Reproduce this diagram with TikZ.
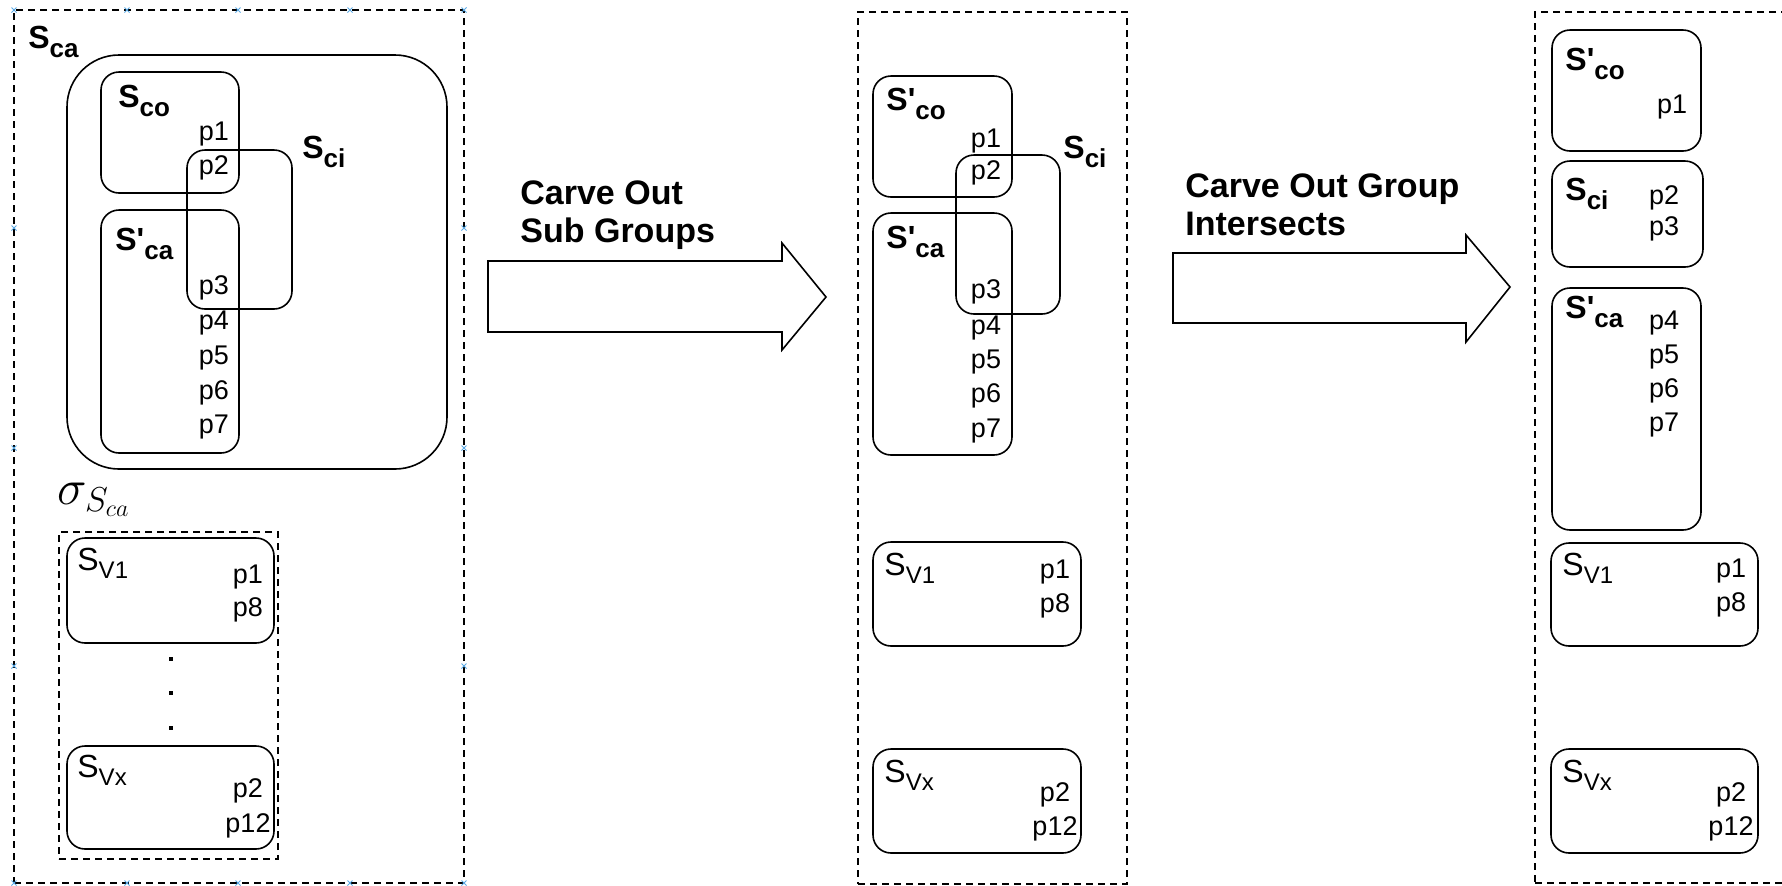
\documentclass[tikz,border=0pt]{standalone}
\usepackage{fontspec}
\setmainfont{Liberation Sans}
\usetikzlibrary{fit}
\newcommand{\SB}[2]{{\fontsize{16}{18}\selectfont\bfseries #1\raisebox{-4.5pt}{\fontsize{13}{15}\selectfont\bfseries #2}}}
\newcommand{\SV}[1]{{\fontsize{16}{18}\selectfont S\raisebox{-4pt}{\fontsize{12}{14}\selectfont #1}}}
\newcommand{\Sp}{S\textquotesingle}
\tikzset{
  grp/.style={draw, line width=0.8pt, rounded corners=9pt, inner sep=0pt, fit={#1}},
  dbox/.style={draw, line width=0.7pt, dash pattern=on 3.5pt off 2.5pt, inner sep=0pt, fit={#1}},
  lbl/.style={anchor=base west, inner sep=0pt},
  ptxt/.style={inner sep=0pt, font=\fontsize{13.5}{16}\selectfont},
  atxt/.style={anchor=west, inner sep=0pt, align=left, font=\fontsize{17}{19}\selectfont\bfseries},
  blockarrow/.style={draw, line width=0.8pt, line join=miter},
  hnd/.style={draw={rgb,255:red,90;green,170;blue,230}, line width=0.5pt},
  dotmark/.style={fill=black}
}
\begin{document}
\begin{tikzpicture}[x=0.5pt,y=-0.5pt]
\useasboundingbox (0,0) rectangle (1782,885);
\clip (0,0) rectangle (1782,885);

% ---------------- Panel 1 ----------------
\node[dbox={(14,10) (464,883)}] (pan1) {};
\foreach \hx/\hy in {14/10,127/10,238/10,350/10,464/10,14/228,464/228,14/448,464/448,14/666,464/666,14/883,127/883,238/883,350/883,464/883}
  \draw[hnd] (\hx-2.5,\hy-2.5) -- (\hx+2.5,\hy+2.5) (\hx-2.5,\hy+2.5) -- (\hx+2.5,\hy-2.5);
\node[lbl] (lca1) at (28,48) {\SB{S}{ca}};
\node[grp={(67,55) (447,469)}, rounded corners=26pt] (sca1) {};
\node[grp={(101,72) (239,193)}] (sco1) {};
\node[grp={(187,150) (292,309)}] (sci1) {};
\node[grp={(101,210) (239,453)}] (scap1) {};
\node[lbl] (lco1) at (118,107) {\SB{S}{co}};
\node[lbl] (lci1) at (302,158) {\SB{S}{ci}};
\node[lbl] (lcap1) at (115,250) {\SB{\Sp}{ca}};
\node[ptxt] (a1) at (214,134) {p1};
\node[ptxt] (a2) at (214,168) {p2};
\node[ptxt] (a3) at (214,288) {p3};
\node[ptxt] (a4) at (214,323) {p4};
\node[ptxt] (a5) at (214,358) {p5};
\node[ptxt] (a6) at (214,393) {p6};
\node[ptxt] (a7) at (214,427) {p7};

\node[lbl] (lsig) at (57,504) {\fontsize{23}{25}\selectfont$\sigma_{S_{ca}}$};
\node[dbox={(59,532) (278,859)}] (sig) {};
\node[grp={(67,538) (274,643)}] (v1a) {};
\node[lbl] (lv1a) at (77,570) {\SV{V1}};
\node[ptxt] (b1) at (248,577) {p1};
\node[ptxt] (b8) at (248,610) {p8};
\fill[dotmark] (169,657) rectangle (173,661);
\fill[dotmark] (169,691) rectangle (173,695);
\fill[dotmark] (169,726) rectangle (173,730);
\node[grp={(67,746) (274,849)}] (vxa) {};
\node[lbl] (lvxa) at (77,777) {\SV{Vx}};
\node[ptxt] (b2) at (248,791) {p2};
\node[ptxt] (b12) at (248,826) {p12};

% ---------------- Arrow 1 ----------------
\draw[blockarrow] (488,261) -- (782,261) -- (782,243) -- (826,297) -- (782,350) -- (782,332) -- (488,332) -- cycle;
\node[atxt] (t1) at (520,215) {Carve Out\\Sub Groups};

% ---------------- Panel 2 ----------------
\node[dbox={(858,12) (1127,884)}] (pan2) {};
\node[grp={(873,76) (1012,197)}] (sco2) {};
\node[grp={(956,155) (1060,314)}] (sci2) {};
\node[grp={(873,213) (1012,455)}] (scap2) {};
\node[lbl] (lco2) at (886,110) {\SB{\Sp}{co}};
\node[lbl] (lci2) at (1063,158) {\SB{S}{ci}};
\node[lbl] (lcap2) at (886,248) {\SB{\Sp}{ca}};
\node[ptxt] (c1) at (986,141) {p1};
\node[ptxt] (c2) at (986,173) {p2};
\node[ptxt] (c3) at (986,292) {p3};
\node[ptxt] (c4) at (986,328) {p4};
\node[ptxt] (c5) at (986,362) {p5};
\node[ptxt] (c6) at (986,396) {p6};
\node[ptxt] (c7) at (986,431) {p7};
\node[grp={(873,542) (1081,646)}] (v1b) {};
\node[lbl] (lv1b) at (884,575) {\SV{V1}};
\node[ptxt] (d1) at (1055,572) {p1};
\node[ptxt] (d8) at (1055,606) {p8};
\node[grp={(873,749) (1081,853)}] (vxb) {};
\node[lbl] (lvxb) at (884,782) {\SV{Vx}};
\node[ptxt] (d2) at (1055,795) {p2};
\node[ptxt] (d12) at (1055,829) {p12};

% ---------------- Arrow 2 ----------------
\draw[blockarrow] (1173,253) -- (1466,253) -- (1466,235) -- (1510,287) -- (1466,342) -- (1466,323) -- (1173,323) -- cycle;
\node[atxt] (t2) at (1185,205) {Carve Out Group\\Intersects};

% ---------------- Panel 3 ----------------
\node[dbox={(1535,12) (1820,883)}] (pan3) {};
\node[grp={(1552,30) (1701,151)}] (sco3) {};
\node[lbl] (lco3) at (1565,70) {\SB{\Sp}{co}};
\node[ptxt] (e1) at (1672,107) {p1};
\node[grp={(1552,161) (1703,267)}] (sci3) {};
\node[lbl] (lci3) at (1565,200) {\SB{S}{ci}};
\node[ptxt] (e2) at (1664,198) {p2};
\node[ptxt] (e3) at (1664,229) {p3};
\node[grp={(1552,288) (1701,530)}] (scap3) {};
\node[lbl] (lcap3) at (1565,318) {\SB{\Sp}{ca}};
\node[ptxt] (e4) at (1664,323) {p4};
\node[ptxt] (e5) at (1664,357) {p5};
\node[ptxt] (e6) at (1664,391) {p6};
\node[ptxt] (e7) at (1664,425) {p7};
\node[grp={(1551,543) (1758,646)}] (v1c) {};
\node[lbl] (lv1c) at (1562,575) {\SV{V1}};
\node[ptxt] (f1) at (1731,571) {p1};
\node[ptxt] (f8) at (1731,605) {p8};
\node[grp={(1551,749) (1758,853)}] (vxc) {};
\node[lbl] (lvxc) at (1562,782) {\SV{Vx}};
\node[ptxt] (f2) at (1731,795) {p2};
\node[ptxt] (f12) at (1731,829) {p12};
\end{tikzpicture}
\end{document}
